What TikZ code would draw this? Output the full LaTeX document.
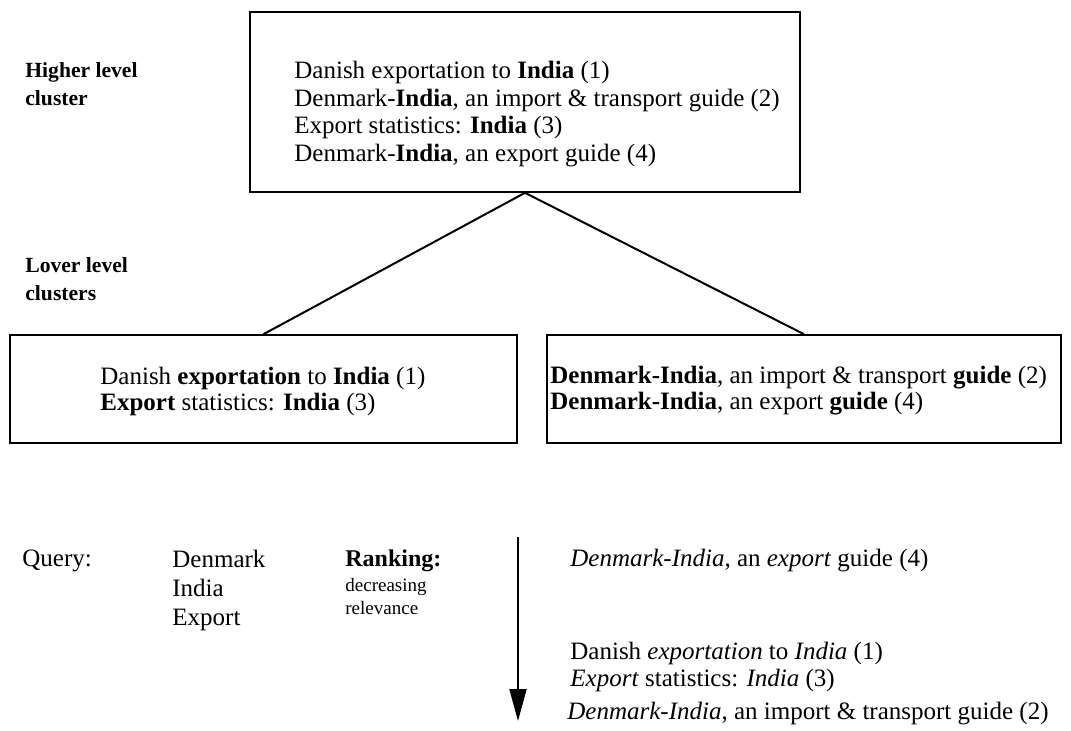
\documentclass[tikz,border=0pt]{standalone}
\usepackage{fontspec}
\setmainfont{Liberation Serif}
\usetikzlibrary{arrows.meta,positioning}

\tikzset{
  cluster/.style={draw, line width=0.8pt, inner sep=0pt},
  doc/.style={anchor=west, align=left, inner sep=0pt, font=\fontsize{12.5}{13.8}\selectfont},
  side/.style={anchor=west, align=left, inner sep=0pt, font=\bfseries\fontsize{10.8}{14}\selectfont},
  link/.style={line width=1pt},
}

\begin{document}
\begin{tikzpicture}[x=0.5pt,y=-0.5pt]
    \useasboundingbox (0,0) rectangle (1071,731);

    % cluster boxes
    \node[cluster, minimum width=275pt, minimum height=90pt]  (top)   at (525,102) {};
    \node[cluster, minimum width=253.5pt, minimum height=54pt]  (left)  at (263.5,389) {};
    \node[cluster, minimum width=257pt, minimum height=54pt]  (right) at (804,389) {};

    \node[doc] (toptxt) at (294,114) {Danish exportation to \textbf{India} (1)\\
      Denmark-\textbf{India}, an import \& transport guide (2)\\
      Export statistics: \textbf{India} (3)\\
      Denmark-\textbf{India}, an export guide (4)};
    \node[doc, font=\fontsize{12.5}{13}\selectfont] (lefttxt) at (100,391) {Danish \textbf{exportation} to \textbf{India} (1)\\
      \textbf{Export} statistics: \textbf{India} (3)};
    \node[doc, font=\fontsize{12.5}{13}\selectfont] (righttxt) at (550,391) {\textbf{Denmark-India}, an import \& transport \textbf{guide} (2)\\
      \textbf{Denmark-India}, an export \textbf{guide} (4)};

    \node[side] (higher) at (25,84)  {Higher level\\cluster};
    \node[side] (lower)  at (25,279) {Lover level\\clusters};

    \draw[link] (top.south) -- (left.north);
    \draw[link] (top.south) -- (right.north);

    % query and ranking
    \node[doc] (query) at (22,561) {Query:};
    \node[doc, font=\fontsize{12.5}{14.5}\selectfont] (terms) at (172,590) {Denmark\\India\\Export};
    \node[side, font=\bfseries\fontsize{12}{13.8}\selectfont] (ranking) at (345,561) {Ranking:};
    \node[doc, font=\fontsize{9.5}{11.5}\selectfont] (decr) at (345,597) {decreasing\\relevance};

    \coordinate (rtop) at (518,537);
    \coordinate (rbot) at (518,721);
    \draw[link, -{Triangle[length=16pt,width=8.5pt]}] (rtop) -- (rbot);

    \node[doc] (r1) at (570,561) {\textit{Denmark-India}, an \textit{export} guide (4)};
    \node[doc] (r2) at (570,667) {Danish \textit{exportation} to \textit{India} (1)\\
      \textit{Export} statistics: \textit{India} (3)};
    \node[doc] (r3) at (567,714) {\textit{Denmark-India}, an import \& transport guide (2)};
\end{tikzpicture}
\end{document}
